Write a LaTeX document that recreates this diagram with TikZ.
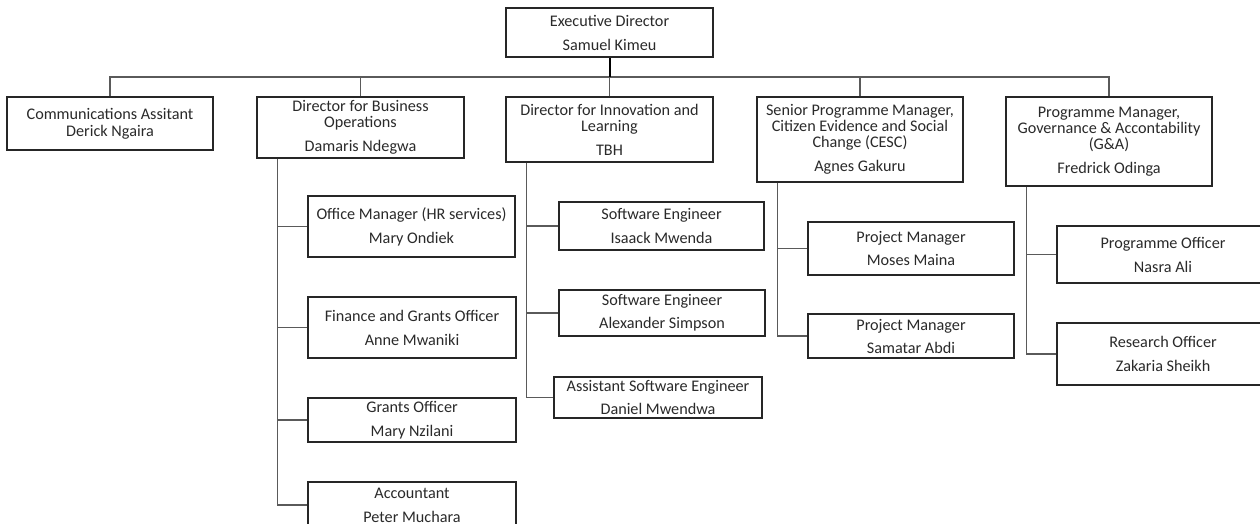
\documentclass[tikz,border=0pt]{standalone}
\usepackage{fontspec}
\setmainfont{Carlito}
\definecolor{boxline}{HTML}{262626}
\definecolor{connline}{HTML}{5A5A5A}
\definecolor{txt}{HTML}{2A2A2A}
\begin{document}
\begin{tikzpicture}[x=1pt,y=-1pt,
  box/.style={draw=boxline,line width=1.3pt,rectangle,inner sep=0pt,align=center,
    text=txt,font=\fontsize{16.2}{16}\selectfont},
  conn/.style={draw=connline,line width=1.5pt},
  execline/.style={draw=black,line width=2pt}]
\useasboundingbox (0,0) rectangle (1260,524);
\clip (0,0) rectangle (1260,524);
\fill[white] (0,0) rectangle (1260,524);
% top
\node[box,minimum width=207pt,minimum height=49pt] (exec) at (609.5,32.5) {Executive Director\\[8pt]Samuel Kimeu};
% directors
\node[box,minimum width=206pt,minimum height=53pt] (comm) at (110,123.5) {Communications Assitant\\[1pt]Derick Ngaira};
\node[box,minimum width=207pt,minimum height=61pt] (biz) at (360.5,127.5) {Director for Business\\Operations\\[8pt]Damaris Ndegwa};
\node[box,minimum width=207pt,minimum height=65pt] (innov) at (609.5,129.5) {Director for Innovation and\\Learning\\[8pt]TBH};
\node[box,minimum width=206pt,minimum height=85pt] (cesc) at (860,139.5) {Senior Programme Manager,\\Citizen Evidence and Social\\Change (CESC)\\[8pt]Agnes Gakuru};
\node[box,minimum width=206pt,minimum height=89pt] (ga) at (1109,141.5) {Programme Manager,\\Governance \& Accontability\\(G\&A)\\[8pt]Fredrick Odinga};
% business operations team
\node[box,minimum width=207pt,minimum height=61pt] (om) at (411.5,226.5) {Office Manager (HR services)\\[8pt]Mary Ondiek};
\node[box,minimum width=208pt,minimum height=61pt] (fin) at (412,327.5) {Finance and Grants Officer\\[8pt]Anne Mwaniki};
\node[box,minimum width=208pt,minimum height=44pt] (grants) at (412,420) {Grants Officer\\[8pt]Mary Nzilani};
\node[box,minimum width=208pt,minimum height=46pt] (acct) at (412,505) {Accountant\\[8pt]Peter Muchara};
% innovation team
\node[box,minimum width=205pt,minimum height=48pt] (isaack) at (661.5,226) {Software Engineer\\[8pt]Isaack Mwenda};
\node[box,minimum width=206pt,minimum height=46pt] (alex) at (662,313) {Software Engineer\\[7pt]Alexander Simpson};
\node[box,minimum width=208pt,minimum height=41pt] (asst) at (658,397.5) {Assistant Software Engineer\\[7pt]Daniel Mwendwa};
% CESC team
\node[box,minimum width=206pt,minimum height=53pt] (moses) at (911,248.5) {Project Manager\\[7pt]Moses Maina};
\node[box,minimum width=206pt,minimum height=44pt] (samatar) at (911,336) {Project Manager\\[7pt]Samatar Abdi};
% G&A team
\node[box,minimum width=212pt,minimum height=57pt] (po) at (1163,254.5) {Programme Officer\\[8pt]Nasra Ali};
\node[box,minimum width=212pt,minimum height=62pt] (ro) at (1163,354) {Research Officer\\[8pt]Zakaria Sheikh};
% bus
\coordinate (bus) at (110,77);
\draw[conn] (comm.north) -- (comm.north |- bus) -| (ga.north);
\draw[conn] (biz.north) -- (biz.north |- bus);
\draw[conn] (innov.north) -- (innov.north |- bus);
\draw[conn] (cesc.north) -- (cesc.north |- bus);
\draw[execline] (exec.south) -- (exec.south |- bus);
% business stem
\coordinate (bs) at ([xshift=21pt]biz.south west);
\draw[conn] (bs) |- (acct.west);
\draw[conn] (bs |- om.west) -- (om.west);
\draw[conn] (bs |- fin.west) -- (fin.west);
\draw[conn] (bs |- grants.west) -- (grants.west);
% innovation stem
\coordinate (is) at ([xshift=21pt]innov.south west);
\draw[conn] (is) |- (asst.west);
\draw[conn] (is |- isaack.west) -- (isaack.west);
\draw[conn] (is |- alex.west) -- (alex.west);
% cesc stem
\coordinate (cs) at ([xshift=21pt]cesc.south west);
\draw[conn] (cs) |- (samatar.west);
\draw[conn] (cs |- moses.west) -- (moses.west);
% ga stem
\coordinate (gs) at ([xshift=21pt]ga.south west);
\draw[conn] (gs) |- (ro.west);
\draw[conn] (gs |- po.west) -- (po.west);
\end{tikzpicture}
\end{document}
